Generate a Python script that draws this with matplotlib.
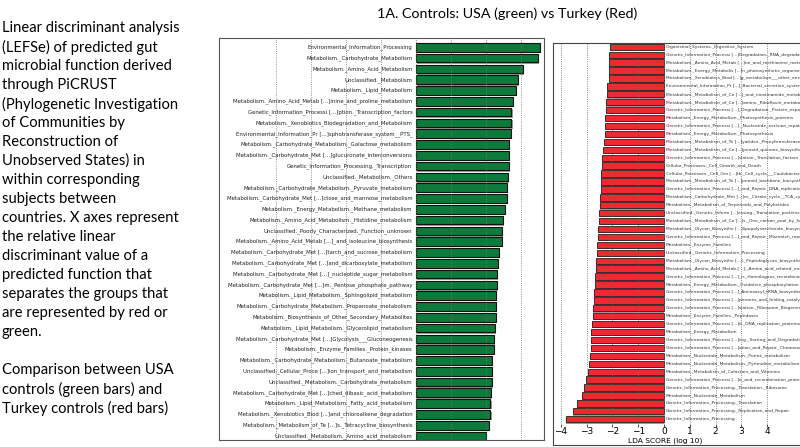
import matplotlib
matplotlib.use('Agg')
import matplotlib.pyplot as plt
from matplotlib.patches import Rectangle

# left panel: USA controls (green), LDA score (log 10)
green_labels = [
    'Environmental_Information_Processing',
    'Metabolism._Carbohydrate_Metabolism',
    'Metabolism._Amino_Acid_Metabolism',
    'Unclassified._Metabolism',
    'Metabolism._Lipid_Metabolism',
    'Metabolism._Amino_Acid_Metab [...]inine_and_proline_metabolism',
    'Genetic_Information_Processi [...]ption._Transcription_factors',
    'Metabolism._Xenobiotics_Biodegradation_and_Metabolism',
    'Environmental_Information_Pr [...]sphotransferase_system__PTS_',
    'Metabolism._Carbohydrate_Metabolism._Galactose_metabolism',
    'Metabolism._Carbohydrate_Met [...]glucuronate_interconversions',
    'Genetic_Information_Processing._Transcription',
    'Unclassified._Metabolism._Others',
    'Metabolism._Carbohydrate_Metabolism._Pyruvate_metabolism',
    'Metabolism._Carbohydrate_Met [...]ctose_and_mannose_metabolism',
    'Metabolism._Energy_Metabolism._Methane_metabolism',
    'Metabolism._Amino_Acid_Metabolism._Histidine_metabolism',
    'Unclassified._Poorly_Characterized._Function_unknown',
    'Metabolism._Amino_Acid_Metab [...]_and_isoleucine_biosynthesis',
    'Metabolism._Carbohydrate_Met [...]tarch_and_sucrose_metabolism',
    'Metabolism._Carbohydrate_Met [...]and_dicarboxylate_metabolism',
    'Metabolism._Carbohydrate_Met [...]_nucleotide_sugar_metabolism',
    'Metabolism._Carbohydrate_Met [...]m._Pentose_phosphate_pathway',
    'Metabolism._Lipid_Metabolism._Sphingolipid_metabolism',
    'Metabolism._Carbohydrate_Metabolism._Propanoate_metabolism',
    'Metabolism._Biosynthesis_of_Other_Secondary_Metabolites',
    'Metabolism._Lipid_Metabolism._Glycerolipid_metabolism',
    'Metabolism._Carbohydrate_Met [...]Glycolysis___Gluconeogenesis',
    'Metabolism._Enzyme_Families._Protein_kinases',
    'Metabolism._Carbohydrate_Metabolism._Butanoate_metabolism',
    'Unclassified._Cellular_Proce [...]ion_transport_and_metabolism',
    'Unclassified._Metabolism._Carbohydrate_metabolism',
    'Metabolism._Carbohydrate_Met [...]ched_dibasic_acid_metabolism',
    'Metabolism._Lipid_Metabolism._Fatty_acid_metabolism',
    'Metabolism._Xenobiotics_Biod [...]and_chloroalkene_degradation',
    'Metabolism._Metabolism_of_Te [...]s._Tetracycline_biosynthesis',
    'Unclassified._Metabolism._Amino_acid_metabolism',
]
green_values = [3.54, 3.48, 3.07, 2.92, 2.86, 2.76, 2.73, 2.73, 2.71, 2.66,
                2.66, 2.66, 2.62, 2.60, 2.59, 2.55, 2.50, 2.47, 2.46, 2.38,
                2.35, 2.32, 2.31, 2.30, 2.29, 2.28, 2.27, 2.23, 2.23, 2.18,
                2.17, 2.17, 2.14, 2.13, 2.13, 2.08, 2.01]

# right panel: Turkey controls (red)
red_labels = [
    'Organismal_Systems._Digestive_System',
    'Genetic_Information_Processi [...]Degradation._RNA_degradation',
    'Metabolism._Amino_Acid_Metab [...]ne_and_methionine_metabolism',
    'Metabolism._Energy_Metabolis [...]n_photosynthetic_organisms',
    'Metabolism._Xenobiotics_Biod [...]g_metabolism___other_enzymes',
    'Environmental_Information_Pr [...]_Bacterial_secretion_system',
    'Metabolism._Metabolism_of_Co [...]_and_nicotinamide_metabolism',
    'Metabolism._Metabolism_of_Co [...]amins._Riboflavin_metabolism',
    'Genetic_Information_Processi [...]_Degradation._Protein_export',
    'Metabolism._Energy_Metabolism._Photosynthesis_proteins',
    'Genetic_Information_Processi [...]._Nucleotide_excision_repair',
    'Metabolism._Energy_Metabolism._Photosynthesis',
    'Metabolism._Metabolism_of_Te [...]yatides._Prenyltransferases',
    'Metabolism._Metabolism_of_Co [...]penoid_quinone_biosynthesis',
    'Genetic_Information_Processi [...]slation._Translation_factors',
    'Cellular_Processes._Cell_Growth_and_Death',
    'Cellular_Processes._Cell_Gro [...]th._Cell_cycle___Caulobacter',
    'Metabolism._Metabolism_of_Te [...]penoid_backbone_biosynthesis',
    'Genetic_Information_Processi [...]_and_Repair._DNA_replication',
    'Metabolism._Carbohydrate_Met [...]m._Citrate_cycle__TCA_cycle_',
    'Metabolism._Metabolism_of_Terpenoids_and_Polyketides',
    'Unclassified._Genetic_Inform [...]essing._Translation_proteins',
    'Metabolism._Metabolism_of_Co [...]s._One_carbon_pool_by_folate',
    'Metabolism._Glycan_Biosynthe [...]lipopolysaccharide_biosynthesis',
    'Genetic_Information_Processi [...]_and_Repair._Mismatch_repair',
    'Metabolism._Enzyme_Families',
    'Unclassified._Genetic_Information_Processing',
    'Metabolism._Glycan_Biosynthe [...]._Peptidoglycan_biosynthesis',
    'Metabolism._Amino_Acid_Metab [...]._Amino_acid_related_enzymes',
    'Genetic_Information_Processi [...]_ir._Homologous_recombination',
    'Metabolism._Energy_Metabolism._Oxidative_phosphorylation',
    'Genetic_Information_Processi [...]_Aminoacyl_tRNA_biosynthesis',
    'Genetic_Information_Processi [...]perones_and_folding_catalysts',
    'Genetic_Information_Processi [...]slation._Ribosome_Biogenesis',
    'Metabolism._Enzyme_Families._Peptidases',
    'Genetic_Information_Processi [...]ir._DNA_replication_proteins',
    'Metabolism._Energy_Metabolism',
    'Genetic_Information_Processi [...]ing._Sorting_and_Degradation',
    'Genetic_Information_Processi [...]ation_and_Repair._Chromosome',
    'Metabolism._Nucleotide_Metabolism._Purine_metabolism',
    'Metabolism._Nucleotide_Metabolism._Pyrimidine_metabolism',
    'Metabolism._Metabolism_of_Cofactors_and_Vitamins',
    'Genetic_Information_Processi [...]ir_and_recombination_proteins',
    'Genetic_Information_Processing._Translation._Ribosome',
    'Metabolism._Nucleotide_Metabolism',
    'Genetic_Information_Processing._Translation',
    'Genetic_Information_Processing._Replication_and_Repair',
    'Genetic_Information_Processing',
]
red_values = [-2.09, -2.12, -2.12, -2.15, -2.15, -2.20, -2.22, -2.25, -2.27, -2.29,
              -2.30, -2.31, -2.33, -2.38, -2.41, -2.41, -2.44, -2.44, -2.45, -2.48,
              -2.50, -2.52, -2.54, -2.56, -2.58, -2.60, -2.61, -2.63, -2.65, -2.67,
              -2.69, -2.71, -2.73, -2.75, -2.77, -2.80, -2.83, -2.83, -2.85, -2.89,
              -2.92, -2.94, -3.02, -3.09, -3.19, -3.37, -3.55, -3.80]

caption_lines = [
    'Linear discriminant analysis',
    '(LEFSe) of predicted gut',
    'microbial function derived',
    'through PiCRUST',
    '(Phylogenetic Investigation',
    'of Communities by',
    'Reconstruction of',
    'Unobserved States) in',
    'within corresponding',
    'subjects between',
    'countries. X axes represent',
    'the relative linear',
    'discriminant value of a',
    'predicted function that',
    'separates the groups that',
    'are represented by red or',
    'green.',
    '',
    'Comparison between USA',
    'controls (green bars) and',
    'Turkey controls (red bars)',
]
title = '1A. Controls: USA (green) vs Turkey (Red)'

GREEN = '#0b7a3a'
RED = '#ee2a2e'
W, H = 800, 447

fig = plt.figure(figsize=(8, 4.47), dpi=100)

# caption text on the left
for i, line in enumerate(caption_lines):
    fig.text(2 / W, 1 - (28 + 19 * i) / H, line, family='Lato', fontsize=10.6,
             va='center', ha='left')
fig.text(507 / W, 1 - 14 / H, title, family='Lato', fontsize=10.3,
         ha='center', va='center')

# ---- left (green) panel ----
axl = fig.add_axes([219 / W, 7 / H, 325 / W, 402 / H])
yl = list(range(len(green_values)))
axl.barh([y + 0.14 for y in yl], green_values, height=0.8, left=0.03,
         color='#9a9a9a', linewidth=0, zorder=1)
axl.barh(yl, green_values, height=0.8, color=GREEN, edgecolor='#111111',
         linewidth=0.8, zorder=2)
for y, lab in zip(yl, green_labels):
    axl.text(-0.1, y, lab, ha='right', va='center', fontsize=3.9,
             color='#222222', zorder=4)
axl.set_xlim(-5.63, 3.66)
axl.set_ylim(36.37, -0.86)
axl.set_xticks(range(-4, 4))
axl.set_yticks([])
axl.tick_params(axis='x', bottom=False, labelbottom=False)
axl.grid(axis='x', linestyle=':', color='#777777', linewidth=0.6, zorder=3)
axl.set_axisbelow(False)
for s in axl.spines.values():
    s.set_color('#555555')
    s.set_linewidth(0.8)

# ---- right (red) panel ----
fig.patches.append(Rectangle((553 / W, 2 / H), 300 / W, 402 / H,
                             transform=fig.transFigure, fill=False,
                             edgecolor='#444444', linewidth=0.8))
axr = fig.add_axes([553 / W, 23 / H, 247 / W, 382 / H])
yr = list(range(len(red_values)))
axr.barh([y + 0.14 for y in yr], red_values, height=0.8, left=0.0,
         color='#9a9a9a', linewidth=0, zorder=1)
axr.barh(yr, red_values, height=0.8, color=RED, edgecolor='#222222',
         linewidth=0.6, zorder=2)
for y, lab in zip(yr, red_labels):
    axr.text(0.08, y, lab, ha='left', va='center', fontsize=3.2,
             color='#333333', zorder=4)
axr.set_xlim(-4.31, 5.28)
axr.set_ylim(47.6, -0.6)
axr.set_xticks(range(-4, 5))
axr.set_yticks([])
axr.tick_params(axis='x', labelsize=6.5, length=2, pad=0.5, width=0.5)
axr.grid(axis='x', linestyle=':', color='#666666', linewidth=0.6, zorder=3)
axr.set_axisbelow(False)
for s in axr.spines.values():
    s.set_visible(False)
axr.set_xlabel('LDA SCORE (log 10)', fontsize=5.4, labelpad=0)
axr.xaxis.set_label_coords(0.455, -0.035)

fig.savefig('out.png', dpi=100)
